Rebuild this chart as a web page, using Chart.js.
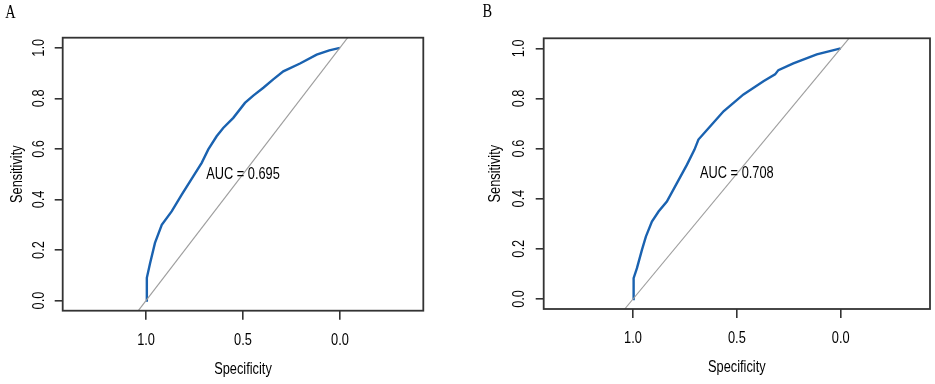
<!DOCTYPE html>
<html>
<head>
<meta charset="utf-8">
<script src="https://cdn.jsdelivr.net/npm/chart.js@4.4.1/dist/chart.umd.min.js"></script>
<style>
  body { margin: 0; background: #fff; }
  #wrap { position: relative; width: 935px; height: 384px; }
  .pane { position: absolute; top: 0; height: 384px; }
</style>
</head>
<body>
<div id="wrap">
  <div class="pane" style="left:0;width:467px"><canvas id="rocA"></canvas></div>
  <div class="pane" style="left:467px;width:468px"><canvas id="rocB"></canvas></div>
</div>
<script>
/* ===================== DATOS ===================== */
const xTicks = [1.0, 0.5, 0.0];
const yTicks = [0.0, 0.2, 0.4, 0.6, 0.8, 1.0];
const xTickLabels = ["1.0", "0.5", "0.0"];
const yTickLabels = ["0.0", "0.2", "0.4", "0.6", "0.8", "1.0"];

const specA = [1.0, 0.996, 0.979, 0.954, 0.919, 0.868, 0.816, 0.756, 0.713, 0.679, 0.636,
  0.602, 0.55, 0.49, 0.447, 0.395, 0.344, 0.292, 0.206, 0.12, 0.055, 0.0];
const sensA = [0.0, 0.09, 0.149, 0.228, 0.30, 0.353, 0.419, 0.492, 0.545, 0.598, 0.65,
  0.683, 0.723, 0.782, 0.811, 0.842, 0.875, 0.907, 0.938, 0.973, 0.99, 1.0];

const specB = [1.0, 0.997, 0.981, 0.957, 0.938, 0.909, 0.877, 0.837, 0.788, 0.74, 0.704,
  0.685, 0.628, 0.564, 0.468, 0.372, 0.316, 0.30, 0.228, 0.115, 0.0];
const sensB = [0.0, 0.083, 0.123, 0.196, 0.249, 0.309, 0.349, 0.389, 0.463, 0.536, 0.596,
  0.636, 0.689, 0.749, 0.816, 0.869, 0.896, 0.913, 0.94, 0.976, 1.0];

const diagSpec = [1.04, -0.04];
const diagSens = [-0.04, 1.04];

const aucA = "AUC = 0.695";
const aucB = "AUC = 0.708";

/* ===================== UTIL ===================== */
const FONT = '16px "Liberation Sans", Arial, sans-serif';

function texto(ctx, txt, x, y, rot, font, sx) {
  ctx.save();
  ctx.translate(x, y);
  if (rot) ctx.rotate(rot);
  ctx.scale(sx, 1);
  ctx.font = font;
  ctx.fillStyle = "#000";
  ctx.textAlign = "center";
  ctx.textBaseline = "middle";
  ctx.fillText(txt, 0, 0);
  ctx.restore();
}

const marco = {
  id: "marco",
  afterDraw(chart) {
    const o = chart.options.plugins.marco;
    const { ctx, chartArea: a, scales } = chart;
    ctx.save();
    ctx.strokeStyle = "#333";
    ctx.lineWidth = 1.8;
    ctx.strokeRect(a.left, a.top, a.right - a.left, a.bottom - a.top);
    ctx.restore();

    yTicks.forEach((v, i) =>
      texto(ctx, yTickLabels[i], a.left + o.yTickDx, scales.y.getPixelForValue(v), -Math.PI / 2, FONT, 0.8)
    );
    xTicks.forEach((v, i) =>
      texto(ctx, xTickLabels[i], scales.x.getPixelForValue(v), a.bottom + 30, 0, FONT, 0.8)
    );
    texto(ctx, "Sensitivity", a.left + o.yTitleDx, scales.y.getPixelForValue(0.5), -Math.PI / 2, FONT, 0.8);
    texto(ctx, "Specificity", scales.x.getPixelForValue(0.5), a.bottom + 59, 0, FONT, 0.8);
    texto(ctx, o.auc, scales.x.getPixelForValue(0.5), scales.y.getPixelForValue(0.5), 0, FONT, 0.8);
    texto(ctx, o.letra, o.letraX, o.letraY, 0, '18px "Liberation Serif", serif', 0.8);
  },
};

/* ===================== CREAR ===================== */
function crearRoc(id, spec, sens, p) {
  return new Chart(document.getElementById(id), {
    type: "scatter",
    data: {
      datasets: [
        {
          data: diagSpec.map((x, i) => ({ x, y: diagSens[i] })),
          showLine: true,
          borderColor: "#9e9e9e",
          borderWidth: 1.1,
          pointRadius: 0,
        },
        {
          data: spec.map((x, i) => ({ x, y: sens[i] })),
          showLine: true,
          borderColor: "#1a62b0",
          borderWidth: 2.4,
          pointRadius: 0,
        },
      ],
    },
    plugins: [marco],
    options: {
      responsive: true,
      maintainAspectRatio: false,
      animation: false,
      layout: { padding: { left: 0, top: p.top, right: p.right, bottom: 0 } },
      plugins: {
        legend: { display: false },
        tooltip: { enabled: false },
        marco: p,
      },
      scales: {
        x: {
          type: "linear",
          min: -0.43,
          max: 1.43,
          reverse: true,
          afterBuildTicks: (s) => (s.ticks = xTicks.map((v) => ({ value: v }))),
          afterFit: (s) => (s.height = p.xH),
          ticks: { display: false },
          border: { display: false },
          grid: { drawOnChartArea: false, tickLength: 9, color: "#333", lineWidth: 1.6 },
        },
        y: {
          type: "linear",
          min: -0.04,
          max: 1.04,
          afterBuildTicks: (s) => (s.ticks = yTicks.map((v) => ({ value: v }))),
          afterFit: (s) => (s.width = p.yW),
          ticks: { display: false },
          border: { display: false },
          grid: { drawOnChartArea: false, tickLength: 8, color: "#333", lineWidth: 1.6 },
        },
      },
    },
  });
}

crearRoc("rocA", specA, sensA, {
  top: 37.7, right: 43.7, yW: 62.7, xH: 73.3,
  yTickDx: -23, yTitleDx: -45, auc: aucA, letra: "A", letraX: 10.5, letraY: 13,
});
crearRoc("rocB", specB, sensB, {
  top: 38.3, right: 5, yW: 76.7, xH: 75,
  yTickDx: -24, yTitleDx: -48, auc: aucB, letra: "B", letraX: 20.3, letraY: 12.5,
});
</script>
</body>
</html>
